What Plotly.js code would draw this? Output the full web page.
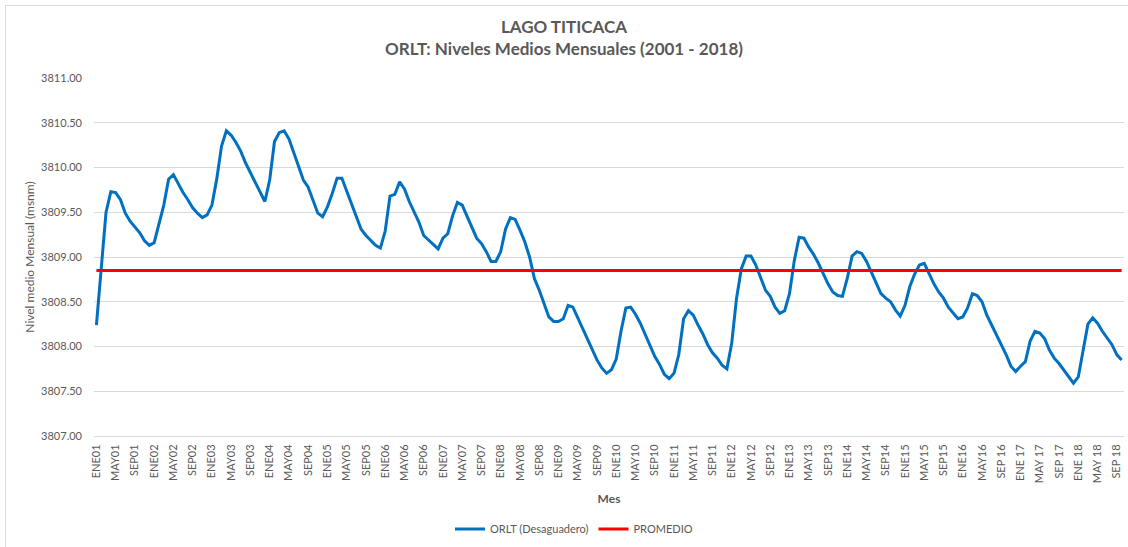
<!DOCTYPE html>
<html><head><meta charset="utf-8">
<script src="https://cdn.plot.ly/plotly-3.0.1.min.js"></script>
<style>
html,body{margin:0;padding:0;background:#fff;overflow:hidden}
#chart{width:1128px;height:547px}
#frame{position:absolute;left:5px;top:5px;width:1140px;height:560px;border:1px solid #d9d9d9;pointer-events:none}
</style></head><body>
<div id="chart"></div><div id="frame"></div>
<script>
// Month names and years (categories)
const monthNames = ['ENE','FEB','MAR','ABR','MAY','JUN','JUL','AGO','SEP','OCT','NOV','DIC'];
const years = ['01','02','03','04','05','06','07','08','09','10','11','12','13','14','15','16','17','18'];

// Tick labels shown on the x axis (every 4 months)
const tickLabels = [
 'ENE01','MAY01','SEP01','ENE02','MAY02','SEP02','ENE03','MAY03','SEP03',
 'ENE04','MAY04','SEP04','ENE05','MAY05','SEP05','ENE06','MAY06','SEP06',
 'ENE07','MAY07','SEP07','ENE08','MAY08','SEP08','ENE09','MAY09','SEP09',
 'ENE10','MAY10','SEP10','ENE11','MAY11','SEP11','ENE12','MAY12','SEP12',
 'ENE13','MAY13','SEP13','ENE14','MAY14','SEP14','ENE15','MAY15','SEP15',
 'ENE16','MAY16','SEP 16','ENE 17','MAY 17','SEP 17','ENE 18','MAY 18','SEP 18'
];

// ORLT (Desaguadero) monthly mean levels (msnm), ENE 2001 - OCT 2018
const orlt = [
 3808.24,3808.87,3809.50,3809.73,3809.72,3809.64,3809.49,3809.40,3809.34,3809.27,3809.18,3809.13, // 2001
 3809.16,3809.36,3809.58,3809.87,3809.92,3809.82,3809.72,3809.64,3809.55,3809.49,3809.44,3809.47, // 2002
 3809.58,3809.87,3810.24,3810.41,3810.36,3810.28,3810.18,3810.05,3809.94,3809.84,3809.72,3809.62, // 2003
 3809.86,3810.29,3810.39,3810.41,3810.32,3810.17,3810.02,3809.86,3809.78,3809.63,3809.49,3809.45, // 2004
 3809.56,3809.71,3809.88,3809.88,3809.74,3809.59,3809.44,3809.31,3809.24,3809.19,3809.13,3809.10, // 2005
 3809.29,3809.68,3809.70,3809.84,3809.76,3809.62,3809.50,3809.39,3809.24,3809.19,3809.14,3809.09, // 2006
 3809.21,3809.26,3809.46,3809.61,3809.58,3809.46,3809.33,3809.21,3809.15,3809.06,3808.95,3808.95, // 2007
 3809.06,3809.31,3809.44,3809.42,3809.30,3809.17,3809.00,3808.76,3808.63,3808.48,3808.33,3808.28, // 2008
 3808.28,3808.31,3808.46,3808.44,3808.32,3808.20,3808.07,3807.96,3807.85,3807.76,3807.70,3807.74, // 2009
 3807.86,3808.17,3808.43,3808.44,3808.36,3808.26,3808.13,3808.00,3807.89,3807.80,3807.69,3807.64, // 2010
 3807.70,3807.91,3808.31,3808.40,3808.35,3808.24,3808.14,3808.02,3807.93,3807.87,3807.79,3807.75, // 2011
 3808.04,3808.54,3808.87,3809.01,3809.01,3808.91,3808.77,3808.63,3808.56,3808.44,3808.37,3808.40, // 2012
 3808.59,3808.96,3809.22,3809.21,3809.11,3809.03,3808.93,3808.81,3808.70,3808.61,3808.57,3808.56, // 2013
 3808.76,3809.01,3809.06,3809.04,3808.95,3808.83,3808.70,3808.59,3808.54,3808.50,3808.41,3808.34, // 2014
 3808.46,3808.67,3808.81,3808.91,3808.93,3808.81,3808.70,3808.61,3808.54,3808.44,3808.38,3808.31, // 2015
 3808.33,3808.43,3808.59,3808.57,3808.50,3808.35,3808.24,3808.13,3808.02,3807.91,3807.78,3807.72, // 2016
 3807.78,3807.83,3808.06,3808.17,3808.15,3808.09,3807.96,3807.87,3807.81,3807.74,3807.66,3807.59, // 2017
 3807.66,3807.94,3808.25,3808.32,3808.26,3808.17,3808.09,3808.02,3807.91,3807.85                  // 2018
];

const promedioValue = 3808.85;

// Build categories
const categories = [];
for (const y of years) for (const m of monthNames) categories.push(m + y);
const cats = categories.slice(0, orlt.length);
const promedio = cats.map(() => promedioValue);
const tickVals = cats.filter((c, i) => i % 4 === 0);

const FONT = 'Lato, "Open Sans", sans-serif';
const GREY = '#595959';

const traces = [
  {x: cats, y: orlt, type: 'scatter', mode: 'lines', name: 'ORLT (Desaguadero)',
   line: {color: '#0070C0', width: 3}},
  {x: cats, y: promedio, type: 'scatter', mode: 'lines', name: 'PROMEDIO',
   line: {color: '#FF0000', width: 3}}
];

const layout = {
  width: 1128, height: 547,
  margin: {l: 94, r: 4, t: 78, b: 109},
  paper_bgcolor: '#fff', plot_bgcolor: '#fff',
  font: {family: FONT, color: GREY, size: 11},
  title: {
    text: '<b>LAGO TITICACA</b><br><b>ORLT: Niveles Medios Mensuales (2001 - 2018)</b>',
    font: {family: FONT, size: 17, color: GREY},
    x: 0.5, xref: 'container', xanchor: 'center',
    y: 0.939, yref: 'container', yanchor: 'top'
  },
  xaxis: {
    type: 'category',
    categoryorder: 'array', categoryarray: cats,
    range: [-0.5, cats.length - 0.5],
    tickmode: 'array', tickvals: tickVals, ticktext: tickLabels,
    tickangle: -90,
    tickfont: {family: FONT, size: 11, color: GREY},
    showgrid: false, zeroline: false,
    showline: true, linecolor: '#d9d9d9', linewidth: 1,
    ticks: '', ticklabelstandoff: 3,
    title: {text: '<b>Mes</b>', font: {family: FONT, size: 12, color: GREY}, standoff: 12},
    fixedrange: true
  },
  yaxis: {
    range: [3807, 3811], tick0: 3807, dtick: 0.5, tickformat: '.2f',
    tickfont: {family: FONT, size: 11, color: GREY},
    gridcolor: '#d9d9d9', gridwidth: 1,
    showline: false, zeroline: false, ticks: '',
    ticklabelstandoff: 11,
    title: {text: 'Nivel medio Mensual (msnm)', font: {family: FONT, size: 12, color: GREY}, standoff: 3},
    fixedrange: true
  },
  showlegend: true,
  legend: {
    orientation: 'h', x: 0.466, xanchor: 'center', y: -0.26, yanchor: 'middle',
    font: {family: FONT, size: 11, color: GREY},
    itemwidth: 30, traceorder: 'normal', bgcolor: 'rgba(0,0,0,0)'
  }
};

Plotly.newPlot('chart', traces, layout, {displayModeBar: false, staticPlot: true});
</script>
</body></html>
